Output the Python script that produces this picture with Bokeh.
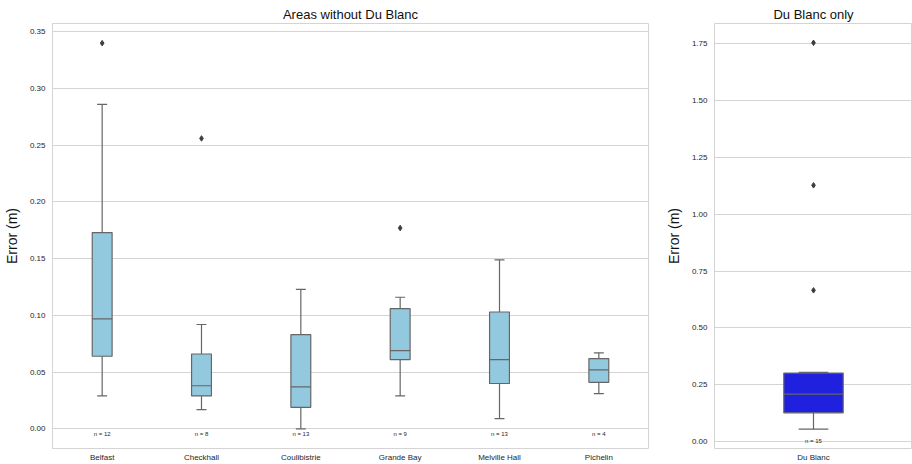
from bokeh.plotting import figure
from bokeh.models import FactorRange, Range1d, FixedTicker, NumeralTickFormatter, ColumnDataSource
from bokeh.transform import dodge
from bokeh.layouts import row
from bokeh.core.properties import value
from bokeh.embed import file_html
from bokeh.resources import INLINE

# ---- data: areas without Du Blanc ----
areas = ["Belfast", "Checkhall", "Coulibistrie", "Grande Bay", "Melville Hall", "Pichelin"]
lower_whisker = [0.029, 0.017, 0.000, 0.029, 0.009, 0.031]
q1 = [0.064, 0.029, 0.019, 0.061, 0.040, 0.041]
median = [0.097, 0.038, 0.037, 0.069, 0.061, 0.052]
q3 = [0.173, 0.066, 0.083, 0.106, 0.103, 0.062]
upper_whisker = [0.286, 0.092, 0.123, 0.116, 0.149, 0.067]
counts = [12, 8, 13, 9, 13, 4]
outlier_areas = ["Belfast", "Checkhall", "Grande Bay"]
outlier_values = [0.340, 0.256, 0.177]
left_ticks = [0.00, 0.05, 0.10, 0.15, 0.20, 0.25, 0.30, 0.35]

# ---- data: Du Blanc only ----
db_area = ["Du Blanc"]
db_lower = [0.054]
db_q1 = [0.126]
db_median = [0.208]
db_q3 = [0.301]
db_upper = [0.304]
db_count = [15]
db_outliers = [0.665, 1.127, 1.754]
right_ticks = [0.00, 0.25, 0.50, 0.75, 1.00, 1.25, 1.50, 1.75]

FONT = "Liberation Sans"
EDGE = "#666666"
GRID = "#d4d4d4"
TXT = "#262626"


def style(p, ticks, fmt):
    p.title.text_font = FONT
    p.title.text_font_size = "13px"
    p.title.text_font_style = "normal"
    p.title.text_color = "#111111"
    p.title.align = "center"
    p.title.standoff = 3
    p.outline_line_color = GRID
    p.xgrid.grid_line_color = None
    p.ygrid.grid_line_color = GRID
    p.ygrid.grid_line_width = 1
    p.yaxis.ticker = FixedTicker(ticks=ticks)
    p.yaxis.formatter = NumeralTickFormatter(format=fmt)
    for ax in (p.xaxis, p.yaxis):
        ax.axis_line_color = None
        ax.major_tick_line_color = None
        ax.minor_tick_line_color = None
        ax.major_tick_out = 0
        ax.major_tick_in = 0
        ax.minor_tick_out = 0
        ax.minor_tick_in = 0
        ax.major_label_text_font = FONT
        ax.major_label_text_color = TXT
        ax.major_label_text_font_size = "8px"
    p.yaxis.major_label_standoff = 7
    p.xaxis.major_label_standoff = 4
    p.yaxis.axis_label = "Error (m)"
    p.yaxis.axis_label_text_font = FONT
    p.yaxis.axis_label_text_font_size = "14px"
    p.yaxis.axis_label_text_font_style = "normal"
    p.yaxis.axis_label_text_color = "#111111"
    p.yaxis.axis_label_standoff = 7
    p.background_fill_color = "white"
    p.border_fill_color = "white"


def draw_boxes(p, cats, lo, a, m, b, hi, n, fill, box_w, cap_w, n_y):
    src = ColumnDataSource(dict(cat=cats, lo=lo, q1=a, med=m, q3=b, hi=hi,
                                label=["n = %d" % k for k in n]))
    xr = p.x_range
    # whisker stems
    p.segment(x0="cat", y0="q3", x1="cat", y1="hi", source=src, line_color=EDGE, line_width=1.2)
    p.segment(x0="cat", y0="q1", x1="cat", y1="lo", source=src, line_color=EDGE, line_width=1.2)
    # caps
    p.segment(x0=dodge("cat", -cap_w / 2, range=xr), y0="hi", x1=dodge("cat", cap_w / 2, range=xr), y1="hi",
              source=src, line_color=EDGE, line_width=1.2)
    p.segment(x0=dodge("cat", -cap_w / 2, range=xr), y0="lo", x1=dodge("cat", cap_w / 2, range=xr), y1="lo",
              source=src, line_color=EDGE, line_width=1.2)
    # boxes
    p.vbar(x="cat", bottom="q1", top="q3", width=box_w, source=src, fill_color=fill,
           line_color=EDGE, line_width=1.2)
    # medians
    p.segment(x0=dodge("cat", -box_w / 2, range=xr), y0="med", x1=dodge("cat", box_w / 2, range=xr), y1="med",
              source=src, line_color=EDGE, line_width=1.2)
    # counts
    p.text(x="cat", y=n_y, text="label", source=src, text_font=value(FONT), text_font_size="6px",
           text_align="center", text_baseline="middle", text_color=TXT)


# ---- left panel ----
p1 = figure(width=660, height=464, x_range=FactorRange(*areas), y_range=Range1d(-0.0173, 0.3573),
            output_backend="svg", toolbar_location=None, title="Areas without Du Blanc",
            min_border_left=52, min_border_right=12, min_border_top=23, min_border_bottom=14)
style(p1, left_ticks, "0.00")
draw_boxes(p1, areas, lower_whisker, q1, median, q3, upper_whisker, counts, "#93c9de", 0.2, 0.1, -0.0045)
p1.scatter(x=outlier_areas, y=outlier_values, marker="diamond", size=5.5, fill_color="#3d3d3d",
           line_color="#3d3d3d")

# ---- right panel ----
p2 = figure(width=252, height=464, x_range=FactorRange(*db_area), y_range=Range1d(-0.031, 1.839),
            output_backend="svg", toolbar_location=None, title="Du Blanc only",
            min_border_left=54, min_border_right=0, min_border_top=23, min_border_bottom=14)
style(p2, right_ticks, "0.00")
draw_boxes(p2, db_area, db_lower, db_q1, db_median, db_q3, db_upper, db_count, "#2020df", 0.3, 0.15, 0.0)
p2.scatter(x=db_area * len(db_outliers), y=db_outliers, marker="diamond", size=5.5, fill_color="#3d3d3d",
           line_color="#3d3d3d")

layout = row(p1, p2)
open("out.html", "w").write(file_html(layout, INLINE))
